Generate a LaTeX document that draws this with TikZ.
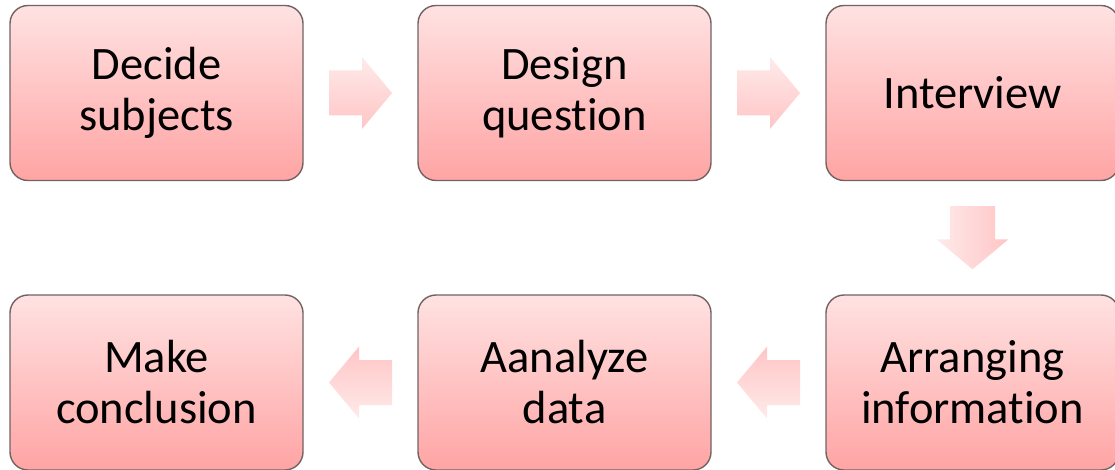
\documentclass[tikz,border=0pt]{standalone}
\usepackage{fontspec}
\setmainfont{Carlito}[Ligatures={NoCommon}]
\usetikzlibrary{calc}
\definecolor{boxtop}{RGB}{255,226,226}
\definecolor{boxbottom}{RGB}{255,164,164}
\definecolor{boxedge}{RGB}{115,98,98}
\definecolor{arrowtop}{RGB}{255,234,234}
\definecolor{arrowbottom}{RGB}{255,197,197}
\def\flowarrow[#1](#2)(#3){\begin{scope}[shift={(#2)},rotate=#3]\shade[arrowshade,#1] (-31.5,-22.5) -- (1.5,-22.5) -- (1.5,-36) -- (31.5,0) -- (1.5,36) -- (1.5,22.5) -- (-31.5,22.5) -- cycle;\end{scope}}

\begin{document}
\begin{tikzpicture}[x=1pt, y=-1pt,
		stepbox/.style={rectangle, rounded corners=18pt, draw=boxedge, line width=1.4pt, top color=boxtop, bottom color=boxbottom, minimum width=293pt, minimum height=175pt, align=center, font=\fontsize{46.5}{51}\selectfont},
		arrowshade/.style={top color=arrowtop, bottom color=arrowbottom}]
			%%%%% START %%%%%
			\useasboundingbox (0, 0) rectangle (1115, 470);
			
			\node[stepbox] (decide) at (156.5, 93) {Decide\\subjects};
			\node[stepbox] (design) at (564.5, 93) {Design\\question};
			\node[stepbox] (interview) at (972.5, 93) {Interview};
			
			\node[stepbox] (arranging) at (972.5, 382.5) {Arranging\\information};
			\node[stepbox] (analyze) at (564.5, 382.5) {Aanalyze\\data};
			\node[stepbox] (conclusion) at (156.5, 382.5) {Make\\conclusion};
			
			\coordinate (a1) at ($(decide)!0.5!(design)$);
			\coordinate (a2) at ($(design)!0.5!(interview)$);
			\coordinate (a3) at ($(interview)!0.5!(arranging)$);
			\coordinate (a4) at ($(arranging)!0.5!(analyze)$);
			\coordinate (a5) at ($(analyze)!0.5!(conclusion)$);
			
			\flowarrow[](a1)(0);
			\flowarrow[](a2)(0);
			\flowarrow[shading angle=90](a3)(-90);
			\flowarrow[shading angle=180](a4)(180);
			\flowarrow[shading angle=180](a5)(180);
			
			%%%%% END %%%%%
		\end{tikzpicture}
\end{document}
